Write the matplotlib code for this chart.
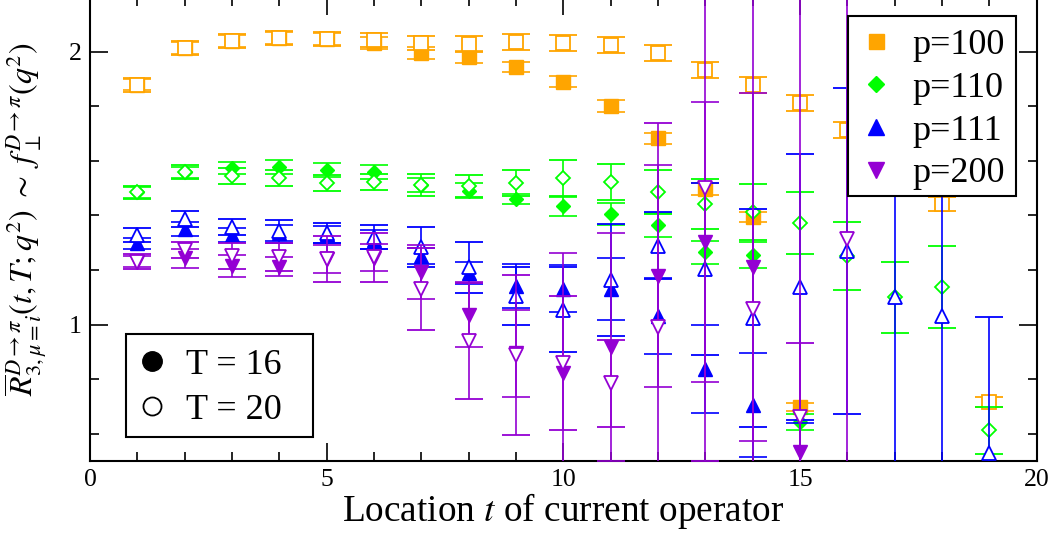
import numpy as np
import matplotlib
matplotlib.use("Agg")
import matplotlib.pyplot as plt
from matplotlib.lines import Line2D
from matplotlib.patches import Rectangle
from matplotlib.ticker import MultipleLocator

plt.rcParams['font.family'] = ['Liberation Serif', 'DejaVu Serif']
plt.rcParams['mathtext.fontset'] = 'stix'

nan = np.nan
t16 = np.arange(1, 16)
t20 = np.arange(1, 20)
t20_p200 = np.arange(1, 17)

# p=100
p100_T16 = [1.878, 2.014, 2.039, 2.050, 2.046, 2.030, 1.996, 1.981, 1.944, 1.889, 1.801, 1.683, 1.496, 1.394, 0.697]
p100_T16_err = [0.02, 0.022, 0.022, 0.022, 0.022, 0.022, 0.022, 0.022, 0.019, 0.02, 0.022, 0.02, 0.022, 0.019, 0.015]
p100_T20 = [1.878, 2.014, 2.039, 2.050, 2.046, 2.043, 2.031, 2.028, 2.036, 2.032, 2.025, 1.995, 1.933, 1.878, 1.812, 1.713, nan, 1.441, 0.716]
p100_T20_err = [0.026, 0.025, 0.025, 0.026, 0.026, 0.026, 0.027, 0.028, 0.03, 0.03, 0.03, 0.03, 0.03, 0.03, 0.03, 0.03, nan, 0.026, 0.019]

# p=110
p110_T16 = [1.485, 1.558, 1.573, 1.577, 1.566, 1.558, 1.511, 1.49, 1.460, 1.434, 1.405, 1.364, 1.265, 1.254, 0.642]
p110_T16_err = [0.02, 0.02, 0.022, 0.025, 0.025, 0.025, 0.025, 0.027, 0.02, 0.035, 0.042, 0.044, 0.042, 0.048, 0.03]
p110_T20 = [1.485, 1.558, 1.544, 1.536, 1.518, 1.522, 1.511, 1.507, 1.518, 1.536, 1.522, 1.485, 1.441, 1.412, 1.372, 1.251, 1.100, 1.137, 0.612]
p110_T20_err = [0.024, 0.026, 0.03, 0.03, 0.03, 0.03, 0.04, 0.04, 0.048, 0.066, 0.066, 0.08, 0.092, 0.103, 0.115, 0.125, 0.13, 0.149, 0.086]

# p=111
p111_T16 = [1.298, 1.35, 1.328, 1.335, 1.33, 1.31, 1.251, 1.188, 1.14, 1.131, 1.13, 1.031, 0.837, 0.704, 0.45]
p111_T16_err = [0.02, 0.025, 0.025, 0.03, 0.03, 0.035, 0.03, 0.04, 0.08, 0.086, 0.114, 0.138, 0.161, 0.19, 0.19]
p111_T20 = [1.328, 1.386, 1.357, 1.342, 1.335, 1.320, 1.284, 1.210, 1.104, 1.055, 1.163, 1.288, 1.203, 1.023, 1.137, 1.269, 1.100, 1.030, 0.528]
p111_T20_err = [0.027, 0.03, 0.03, 0.042, 0.037, 0.045, 0.072, 0.094, 0.106, 0.156, 0.205, 0.123, 0.315, 0.4, 0.488, 0.596, 0.7, 0.8, 0.5]

# p=200
p200_T16 = [1.23, 1.243, 1.214, 1.211, 1.24, 1.245, 1.192, 1.036, 0.895, 0.821, 0.917, 1.177, 1.302, 1.210, 0.532]
p200_T16_err = [0.02, 0.035, 0.04, 0.035, 0.05, 0.05, 0.1, 0.12, 0.16, 0.44, 0.418, 0.407, 0.513, 0.638, 1.7]
p200_T20 = [1.23, 1.272, 1.25, 1.247, 1.24, 1.247, 1.129, 0.939, 0.887, 0.858, 0.785, 0.990, 1.499, 1.056, 0.661, 1.313]
p200_T20_err = [0.028, 0.03, 0.048, 0.05, 0.086, 0.09, 0.15, 0.213, 0.293, 0.246, 0.16, 0.75, 1.0, 1.2, 0.27, 1.0]

labels_p = ['p=100', 'p=110', 'p=111', 'p=200']
labels_T = ['T = 16', 'T = 20']
colors = ['#FFA500', '#00FF00', '#0000FF', '#9400D3']
markers = ['s', 'D', '^', 'v']
msizes = [9.4, 7.1, 9.6, 9.6]
leg_msizes = [10.8, 8.6, 11.5, 11.5]

series = [
    (p100_T16, p100_T16_err, p100_T20, p100_T20_err, t20),
    (p110_T16, p110_T16_err, p110_T20, p110_T20_err, t20),
    (p111_T16, p111_T16_err, p111_T20, p111_T20_err, t20),
    (p200_T16, p200_T16_err, p200_T20, p200_T20_err, t20_p200),
]

W, H = 1054, 539
fig = plt.figure(figsize=(W / 100, H / 100), dpi=100)
ax = fig.add_axes([90 / W, 78 / H, 946.7 / W, 464 / H])

z = 2
for (y16, e16, y20, e20, tt20), c, m, ms in zip(series, colors, markers, msizes):
    ax.errorbar(t16, y16, yerr=e16, fmt=m, color=c, ms=ms, mec=c, mfc=c,
                elinewidth=1.2, capsize=10, capthick=1.2, zorder=z)
    z += 1
    ax.errorbar(tt20, y20, yerr=e20, fmt=m, color=c, ms=ms, mec=c, mfc='white',
                mew=1.3, elinewidth=1.2, capsize=10, capthick=1.2, zorder=z)
    z += 1

ax.set_xlim(0, 20)
ax.set_ylim(0.5, 2.2)
ax.xaxis.set_major_locator(MultipleLocator(5))
ax.xaxis.set_minor_locator(MultipleLocator(1))
ax.yaxis.set_major_locator(MultipleLocator(1))
ax.yaxis.set_minor_locator(MultipleLocator(0.2))
ax.tick_params(which='both', direction='in', top=True, right=True, width=1.2,
               labelsize=18.5)
ax.tick_params(which='major', length=13, pad=6)
ax.tick_params(which='minor', length=6.5)
for s in ax.spines.values():
    s.set_linewidth(1.5)

ax.set_xlabel('Location $t$ of current operator', fontsize=26.8, labelpad=0)
ax.set_ylabel(r'$\overline{R}^{D\to\pi}_{3,\mu=i}(t,T;q^2)\ \sim\ f_{\perp}^{D\to\pi}(q^2)$',
              fontsize=23)
ax.yaxis.set_label_coords(-0.043, 0.522)


def framed(x0, y0, x1, y1):
    r = Rectangle((x0 / W, 1 - y1 / H), (x1 - x0) / W, (y1 - y0) / H,
                  transform=fig.transFigure, fc='white', ec='black', lw=1.5,
                  clip_on=False, zorder=40)
    ax.add_patch(r)


# legend: p values
framed(848, 16, 1016, 196)
hp = [Line2D([], [], ls='none', marker=m, color=c, ms=ms)
      for m, c, ms in zip(markers, colors, leg_msizes)]
leg1 = ax.legend(hp, labels_p, loc='upper left',
                 bbox_to_anchor=(848 / W, 1 - 16 / H),
                 bbox_transform=fig.transFigure, fontsize=26, frameon=False,
                 borderpad=0.35, labelspacing=0.265, handlelength=0.83,
                 handletextpad=0.59, borderaxespad=0)
leg1.set_zorder(50)
ax.add_artist(leg1)

# legend: T values
framed(126, 334, 313, 437)
hT = [Line2D([], [], ls='none', marker='o', color='black', ms=14),
      Line2D([], [], ls='none', marker='o', color='black', mfc='white', ms=13, mew=1.3)]
leg2 = ax.legend(hT, labels_T, loc='upper left',
                 bbox_to_anchor=(126 / W, 1 - 337 / H),
                 bbox_transform=fig.transFigure, fontsize=26, frameon=False,
                 borderpad=0.32, labelspacing=0.33, handlelength=0.8,
                 handletextpad=0.55, borderaxespad=0)
leg2.set_zorder(50)

fig.savefig('out.png', dpi=100)
